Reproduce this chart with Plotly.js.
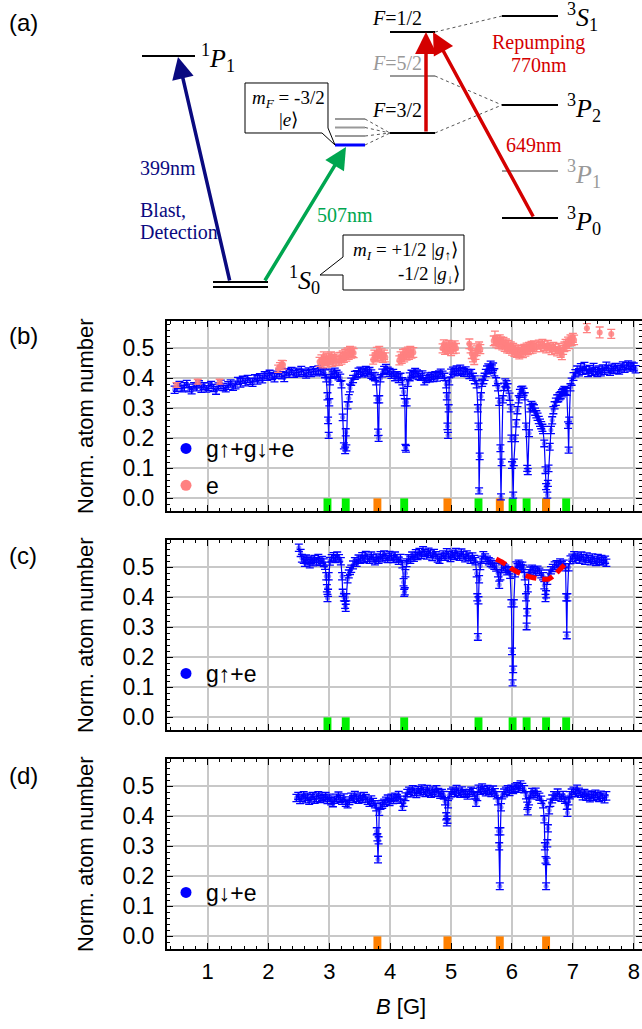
<!DOCTYPE html>
<html><head><meta charset="utf-8">
<script src="https://cdn.plot.ly/plotly-3.0.1.min.js"></script>
<style>html,body{margin:0;padding:0;background:#fff}</style>
</head><body><div id="chart" style="width:642px;height:1029px"></div>
<script>
// ---------- DATA (B [G], normalized atom number, error) ----------
const bAll = [[0.46,0.362,0.012],[0.50,0.370,0.013],[0.54,0.378,0.012],[0.58,0.366,0.011],[0.62,0.372,0.014],[0.66,0.381,0.012],[0.70,0.368,0.013],[0.74,0.360,0.012],[0.78,0.375,0.011],[0.82,0.371,0.013],[0.86,0.380,0.012],[0.90,0.367,0.014],[0.94,0.374,0.012],[0.98,0.365,0.011],[1.02,0.372,0.013],[1.06,0.378,0.012],[1.10,0.368,0.012],[1.14,0.360,0.013],[1.18,0.373,0.012],[1.22,0.380,0.014],[1.26,0.371,0.012],[1.30,0.366,0.011],[1.34,0.376,0.013],[1.38,0.383,0.012],[1.42,0.372,0.012],[1.46,0.378,0.013],[1.50,0.391,0.012],[1.54,0.385,0.014],[1.58,0.395,0.012],[1.62,0.388,0.013],[1.66,0.398,0.012],[1.70,0.390,0.011],[1.74,0.386,0.013],[1.78,0.400,0.012],[1.82,0.395,0.014],[1.86,0.404,0.012],[1.90,0.398,0.013],[1.94,0.410,0.012],[1.98,0.405,0.012],[2.02,0.414,0.013],[2.06,0.408,0.012],[2.10,0.402,0.014],[2.14,0.412,0.012],[2.18,0.418,0.013],[2.22,0.410,0.012],[2.26,0.404,0.015],[2.30,0.420,0.012],[2.34,0.416,0.013],[2.38,0.424,0.012],[2.42,0.415,0.012],[2.46,0.421,0.013],[2.50,0.418,0.012],[2.54,0.426,0.014],[2.58,0.419,0.012],[2.62,0.414,0.013],[2.66,0.423,0.012],[2.70,0.418,0.012],[2.74,0.426,0.013],[2.78,0.420,0.012],[2.82,0.428,0.013],[2.86,0.424,0.012],[2.90,0.420,0.012],[2.93,0.415,0.013],[2.95,0.400,0.012],[2.97,0.340,0.012],[2.98,0.260,0.011],[2.99,0.210,0.010],[3.00,0.320,0.012],[3.01,0.390,0.012],[3.03,0.418,0.013],[3.06,0.412,0.012],[3.09,0.420,0.014],[3.12,0.415,0.012],[3.15,0.408,0.013],[3.18,0.402,0.012],[3.20,0.380,0.012],[3.22,0.270,0.011],[3.24,0.175,0.010],[3.26,0.160,0.011],[3.27,0.220,0.012],[3.28,0.168,0.010],[3.30,0.310,0.012],[3.32,0.334,0.012],[3.34,0.368,0.013],[3.36,0.389,0.012],[3.39,0.398,0.012],[3.42,0.410,0.013],[3.45,0.414,0.012],[3.48,0.420,0.014],[3.51,0.425,0.012],[3.54,0.418,0.013],[3.57,0.422,0.012],[3.60,0.428,0.012],[3.63,0.418,0.013],[3.66,0.424,0.012],[3.69,0.414,0.014],[3.72,0.408,0.012],[3.75,0.405,0.013],[3.77,0.390,0.012],[3.79,0.330,0.012],[3.80,0.220,0.011],[3.81,0.200,0.010],[3.82,0.330,0.012],[3.84,0.400,0.012],[3.87,0.418,0.013],[3.90,0.428,0.012],[3.93,0.432,0.014],[3.96,0.425,0.012],[3.99,0.420,0.013],[4.02,0.412,0.012],[4.05,0.418,0.012],[4.08,0.405,0.013],[4.11,0.410,0.012],[4.14,0.400,0.014],[4.17,0.405,0.012],[4.20,0.390,0.012],[4.22,0.355,0.012],[4.24,0.320,0.012],[4.25,0.170,0.010],[4.26,0.165,0.011],[4.27,0.320,0.012],[4.29,0.385,0.012],[4.32,0.405,0.013],[4.35,0.415,0.012],[4.38,0.410,0.012],[4.41,0.420,0.013],[4.44,0.416,0.012],[4.47,0.410,0.014],[4.50,0.405,0.012],[4.53,0.412,0.013],[4.56,0.390,0.012],[4.59,0.398,0.012],[4.62,0.405,0.013],[4.65,0.400,0.012],[4.68,0.408,0.012],[4.71,0.402,0.013],[4.74,0.410,0.012],[4.77,0.405,0.014],[4.80,0.413,0.012],[4.83,0.418,0.013],[4.86,0.412,0.012],[4.89,0.405,0.012],[4.92,0.380,0.012],[4.93,0.340,0.012],[4.94,0.240,0.011],[4.95,0.210,0.010],[4.96,0.300,0.012],[4.97,0.390,0.012],[5.00,0.418,0.013],[5.03,0.425,0.012],[5.06,0.420,0.012],[5.09,0.428,0.013],[5.12,0.422,0.012],[5.15,0.430,0.014],[5.18,0.424,0.012],[5.21,0.420,0.013],[5.24,0.426,0.012],[5.27,0.418,0.012],[5.30,0.412,0.013],[5.33,0.418,0.012],[5.36,0.405,0.012],[5.39,0.395,0.013],[5.42,0.380,0.012],[5.44,0.300,0.012],[5.45,0.240,0.011],[5.46,0.025,0.010],[5.47,0.140,0.011],[5.49,0.340,0.012],[5.51,0.385,0.012],[5.53,0.395,0.013],[5.55,0.405,0.012],[5.57,0.418,0.012],[5.59,0.428,0.013],[5.61,0.436,0.012],[5.63,0.430,0.014],[5.65,0.445,0.012],[5.67,0.432,0.013],[5.69,0.439,0.012],[5.71,0.420,0.012],[5.74,0.389,0.013],[5.77,0.370,0.012],[5.79,0.322,0.012],[5.81,0.167,0.011],[5.82,0.005,0.010],[5.83,0.120,0.011],[5.85,0.330,0.012],[5.87,0.372,0.012],[5.89,0.385,0.013],[5.91,0.380,0.012],[5.93,0.370,0.012],[5.96,0.339,0.012],[5.98,0.300,0.012],[5.99,0.200,0.011],[6.00,0.111,0.011],[6.02,0.011,0.010],[6.03,0.120,0.011],[6.05,0.200,0.011],[6.07,0.250,0.012],[6.09,0.294,0.012],[6.11,0.330,0.012],[6.13,0.350,0.013],[6.15,0.360,0.012],[6.17,0.362,0.012],[6.19,0.355,0.012],[6.21,0.340,0.012],[6.23,0.240,0.011],[6.25,0.100,0.010],[6.26,0.089,0.010],[6.28,0.217,0.011],[6.30,0.300,0.012],[6.32,0.311,0.012],[6.34,0.305,0.012],[6.36,0.300,0.012],[6.38,0.289,0.012],[6.40,0.280,0.012],[6.42,0.272,0.012],[6.44,0.261,0.012],[6.46,0.252,0.012],[6.48,0.244,0.012],[6.50,0.235,0.012],[6.51,0.228,0.012],[6.53,0.183,0.011],[6.55,0.094,0.011],[6.56,0.039,0.010],[6.58,0.011,0.010],[6.59,0.050,0.010],[6.60,0.100,0.011],[6.62,0.172,0.011],[6.64,0.228,0.012],[6.66,0.260,0.012],[6.68,0.294,0.012],[6.70,0.310,0.012],[6.72,0.322,0.012],[6.74,0.333,0.012],[6.76,0.334,0.012],[6.78,0.340,0.012],[6.80,0.344,0.012],[6.82,0.350,0.012],[6.84,0.355,0.012],[6.86,0.360,0.013],[6.88,0.358,0.012],[6.90,0.355,0.012],[6.92,0.244,0.011],[6.93,0.161,0.010],[6.94,0.260,0.011],[6.96,0.370,0.012],[6.98,0.389,0.012],[7.01,0.406,0.013],[7.04,0.417,0.012],[7.07,0.428,0.013],[7.10,0.420,0.012],[7.13,0.435,0.014],[7.16,0.425,0.012],[7.19,0.440,0.013],[7.22,0.428,0.012],[7.25,0.418,0.012],[7.28,0.430,0.013],[7.31,0.422,0.012],[7.34,0.436,0.014],[7.37,0.424,0.012],[7.40,0.418,0.012],[7.43,0.428,0.013],[7.46,0.420,0.012],[7.49,0.432,0.013],[7.52,0.425,0.012],[7.55,0.440,0.014],[7.58,0.430,0.012],[7.61,0.422,0.012],[7.64,0.434,0.013],[7.67,0.428,0.012],[7.70,0.438,0.012],[7.73,0.430,0.013],[7.76,0.426,0.012],[7.79,0.436,0.012],[7.82,0.442,0.013],[7.85,0.432,0.012],[7.88,0.440,0.012],[7.91,0.445,0.013],[7.94,0.436,0.012],[7.97,0.442,0.012],[8.00,0.438,0.013],[8.03,0.430,0.012]];

const bExcited = [[0.49,0.378,0.008],[0.84,0.389,0.008],[1.20,0.389,0.008],[2.16,0.432,0.012],[2.19,0.440,0.012],[2.22,0.448,0.012],[2.24,0.445,0.014],[2.84,0.455,0.015],[2.87,0.462,0.016],[2.89,0.450,0.015],[2.91,0.470,0.018],[2.93,0.458,0.015],[2.95,0.465,0.016],[2.97,0.452,0.015],[2.99,0.468,0.016],[3.01,0.460,0.015],[3.03,0.472,0.016],[3.05,0.455,0.015],[3.07,0.463,0.016],[3.09,0.470,0.015],[3.11,0.458,0.016],[3.16,0.458,0.015],[3.18,0.470,0.016],[3.20,0.462,0.015],[3.22,0.475,0.016],[3.24,0.468,0.015],[3.26,0.480,0.016],[3.28,0.472,0.015],[3.30,0.485,0.016],[3.32,0.478,0.015],[3.34,0.490,0.016],[3.36,0.482,0.015],[3.38,0.488,0.016],[3.40,0.484,0.015],[3.72,0.462,0.015],[3.74,0.478,0.016],[3.76,0.470,0.015],[3.78,0.485,0.018],[3.80,0.475,0.015],[3.82,0.490,0.016],[3.84,0.472,0.015],[3.86,0.482,0.016],[3.88,0.468,0.015],[3.90,0.478,0.016],[3.92,0.470,0.015],[4.15,0.460,0.015],[4.17,0.472,0.016],[4.19,0.465,0.015],[4.21,0.480,0.016],[4.23,0.470,0.015],[4.25,0.484,0.016],[4.27,0.476,0.015],[4.29,0.488,0.016],[4.31,0.478,0.015],[4.33,0.490,0.016],[4.35,0.482,0.015],[4.38,0.486,0.016],[4.86,0.500,0.015],[4.88,0.512,0.016],[4.90,0.495,0.015],[4.92,0.505,0.016],[4.94,0.498,0.015],[4.96,0.510,0.016],[4.98,0.502,0.015],[5.00,0.492,0.016],[5.02,0.506,0.015],[5.04,0.498,0.016],[5.06,0.510,0.015],[5.08,0.500,0.016],[5.30,0.515,0.016],[5.32,0.500,0.015],[5.34,0.482,0.016],[5.36,0.470,0.015],[5.38,0.462,0.016],[5.40,0.478,0.015],[5.42,0.492,0.016],[5.44,0.500,0.015],[5.46,0.505,0.016],[5.48,0.497,0.015],[5.70,0.525,0.016],[5.72,0.535,0.022],[5.74,0.520,0.016],[5.76,0.528,0.015],[5.78,0.515,0.016],[5.80,0.530,0.015],[5.82,0.522,0.016],[5.84,0.510,0.015],[5.86,0.520,0.016],[5.88,0.505,0.015],[5.90,0.515,0.016],[5.92,0.500,0.015],[5.94,0.510,0.016],[5.96,0.498,0.015],[5.98,0.505,0.016],[6.00,0.492,0.015],[6.02,0.500,0.016],[6.04,0.488,0.015],[6.06,0.495,0.016],[6.08,0.485,0.015],[6.10,0.492,0.016],[6.12,0.480,0.015],[6.14,0.488,0.016],[6.16,0.495,0.015],[6.18,0.485,0.016],[6.20,0.498,0.015],[6.22,0.490,0.016],[6.24,0.502,0.015],[6.26,0.495,0.016],[6.28,0.505,0.015],[6.30,0.498,0.016],[6.32,0.508,0.015],[6.34,0.500,0.016],[6.36,0.510,0.015],[6.40,0.505,0.016],[6.44,0.512,0.015],[6.47,0.505,0.016],[6.50,0.515,0.015],[6.53,0.508,0.016],[6.56,0.500,0.015],[6.59,0.510,0.016],[6.62,0.502,0.015],[6.65,0.495,0.016],[6.68,0.505,0.015],[6.71,0.498,0.016],[6.74,0.490,0.015],[6.77,0.500,0.016],[6.80,0.485,0.015],[6.82,0.478,0.016],[6.84,0.495,0.015],[6.86,0.505,0.016],[6.88,0.515,0.015],[6.90,0.508,0.016],[6.92,0.522,0.015],[6.94,0.515,0.016],[6.96,0.530,0.015],[6.98,0.525,0.016],[7.00,0.535,0.015],[7.02,0.528,0.016],[7.23,0.567,0.015],[7.44,0.553,0.018],[7.63,0.548,0.015]];

const cUp = [[2.50,0.565,0.012],[2.53,0.548,0.012],[2.55,0.530,0.013],[2.58,0.525,0.012],[2.60,0.515,0.012],[2.62,0.528,0.013],[2.65,0.520,0.012],[2.68,0.512,0.014],[2.70,0.525,0.012],[2.73,0.518,0.013],[2.76,0.528,0.012],[2.79,0.520,0.012],[2.82,0.530,0.013],[2.85,0.518,0.012],[2.88,0.524,0.012],[2.91,0.515,0.013],[2.93,0.505,0.012],[2.95,0.470,0.012],[2.96,0.430,0.012],[2.97,0.398,0.012],[2.98,0.415,0.012],[2.99,0.470,0.012],[3.01,0.520,0.013],[3.04,0.530,0.012],[3.07,0.535,0.014],[3.10,0.528,0.012],[3.13,0.538,0.013],[3.16,0.530,0.012],[3.19,0.520,0.012],[3.21,0.470,0.012],[3.22,0.415,0.012],[3.24,0.400,0.012],[3.26,0.375,0.012],[3.27,0.365,0.012],[3.28,0.400,0.012],[3.30,0.460,0.012],[3.32,0.478,0.013],[3.34,0.488,0.012],[3.36,0.495,0.012],[3.39,0.508,0.013],[3.42,0.520,0.012],[3.45,0.515,0.012],[3.48,0.528,0.013],[3.51,0.525,0.012],[3.54,0.535,0.014],[3.57,0.528,0.012],[3.60,0.540,0.013],[3.63,0.532,0.012],[3.66,0.525,0.012],[3.69,0.538,0.013],[3.72,0.530,0.012],[3.75,0.520,0.012],[3.78,0.532,0.013],[3.81,0.525,0.012],[3.84,0.538,0.014],[3.87,0.530,0.012],[3.90,0.542,0.013],[3.93,0.535,0.012],[3.96,0.528,0.012],[3.99,0.540,0.013],[4.02,0.535,0.012],[4.05,0.528,0.012],[4.08,0.538,0.013],[4.11,0.530,0.012],[4.14,0.522,0.012],[4.17,0.530,0.013],[4.20,0.510,0.012],[4.22,0.450,0.012],[4.23,0.415,0.012],[4.24,0.420,0.012],[4.25,0.480,0.012],[4.27,0.515,0.013],[4.30,0.530,0.012],[4.33,0.525,0.012],[4.36,0.538,0.013],[4.39,0.532,0.012],[4.42,0.545,0.014],[4.45,0.538,0.012],[4.48,0.550,0.013],[4.51,0.542,0.012],[4.54,0.555,0.014],[4.57,0.548,0.012],[4.60,0.540,0.013],[4.63,0.552,0.012],[4.66,0.545,0.012],[4.69,0.535,0.013],[4.72,0.548,0.012],[4.75,0.540,0.012],[4.78,0.530,0.013],[4.81,0.525,0.012],[4.84,0.535,0.012],[4.87,0.542,0.013],[4.90,0.535,0.012],[4.93,0.548,0.014],[4.96,0.540,0.012],[4.99,0.532,0.013],[5.02,0.545,0.012],[5.05,0.538,0.012],[5.08,0.550,0.013],[5.11,0.542,0.012],[5.14,0.535,0.012],[5.17,0.548,0.013],[5.20,0.540,0.012],[5.23,0.530,0.012],[5.26,0.542,0.013],[5.29,0.535,0.012],[5.32,0.525,0.012],[5.35,0.535,0.013],[5.38,0.528,0.012],[5.40,0.520,0.012],[5.42,0.480,0.012],[5.43,0.400,0.012],[5.44,0.268,0.011],[5.45,0.390,0.012],[5.46,0.460,0.012],[5.48,0.505,0.013],[5.50,0.525,0.012],[5.53,0.540,0.012],[5.56,0.532,0.013],[5.59,0.525,0.012],[5.62,0.520,0.012],[5.65,0.515,0.013],[5.68,0.510,0.012],[5.71,0.505,0.012],[5.74,0.500,0.013],[5.77,0.480,0.012],[5.79,0.442,0.012],[5.81,0.470,0.012],[5.83,0.495,0.013],[5.86,0.500,0.012],[5.89,0.495,0.012],[5.92,0.488,0.013],[5.95,0.490,0.012],[5.97,0.475,0.012],[5.99,0.380,0.012],[6.00,0.220,0.011],[6.01,0.115,0.010],[6.02,0.160,0.011],[6.03,0.380,0.012],[6.05,0.480,0.012],[6.07,0.505,0.013],[6.09,0.500,0.012],[6.11,0.512,0.012],[6.13,0.505,0.013],[6.15,0.498,0.012],[6.17,0.505,0.012],[6.19,0.495,0.012],[6.21,0.470,0.012],[6.23,0.400,0.012],[6.24,0.303,0.011],[6.25,0.350,0.012],[6.26,0.430,0.012],[6.28,0.480,0.012],[6.30,0.488,0.013],[6.33,0.495,0.012],[6.36,0.490,0.012],[6.39,0.485,0.013],[6.42,0.492,0.012],[6.45,0.485,0.012],[6.48,0.478,0.013],[6.51,0.470,0.012],[6.53,0.440,0.012],[6.55,0.398,0.012],[6.56,0.410,0.012],[6.58,0.455,0.012],[6.61,0.478,0.013],[6.64,0.490,0.012],[6.67,0.498,0.012],[6.70,0.505,0.013],[6.73,0.510,0.012],[6.76,0.505,0.012],[6.79,0.515,0.013],[6.82,0.508,0.012],[6.85,0.512,0.012],[6.88,0.500,0.012],[6.89,0.400,0.012],[6.90,0.273,0.011],[6.91,0.400,0.012],[6.93,0.500,0.012],[6.96,0.525,0.013],[6.99,0.532,0.012],[7.02,0.540,0.012],[7.05,0.528,0.013],[7.08,0.535,0.012],[7.11,0.525,0.012],[7.14,0.538,0.013],[7.17,0.530,0.012],[7.20,0.522,0.012],[7.23,0.535,0.013],[7.26,0.528,0.012],[7.29,0.520,0.012],[7.32,0.532,0.013],[7.35,0.525,0.012],[7.38,0.518,0.012],[7.41,0.530,0.013],[7.44,0.522,0.012],[7.47,0.528,0.012],[7.50,0.520,0.013],[7.53,0.525,0.012],[7.55,0.515,0.012]];

const cFitB = [5.74, 5.90, 6.02, 6.20, 6.35, 6.50, 6.60, 6.70, 6.76, 6.90];
const cFitV = [0.528, 0.510, 0.492, 0.474, 0.465, 0.461, 0.461, 0.475, 0.487, 0.517];

const dDown = [[2.46,0.461,0.012],[2.49,0.468,0.012],[2.52,0.455,0.013],[2.55,0.462,0.012],[2.58,0.470,0.012],[2.61,0.458,0.013],[2.64,0.465,0.012],[2.67,0.452,0.012],[2.70,0.460,0.013],[2.73,0.468,0.012],[2.76,0.455,0.012],[2.79,0.462,0.013],[2.82,0.470,0.012],[2.85,0.458,0.012],[2.88,0.465,0.013],[2.91,0.460,0.012],[2.94,0.468,0.012],[2.97,0.455,0.013],[3.00,0.462,0.012],[3.03,0.450,0.012],[3.06,0.445,0.013],[3.09,0.455,0.012],[3.12,0.462,0.012],[3.15,0.468,0.013],[3.18,0.458,0.012],[3.21,0.452,0.012],[3.24,0.462,0.013],[3.27,0.445,0.012],[3.30,0.440,0.012],[3.33,0.452,0.013],[3.36,0.465,0.012],[3.39,0.458,0.012],[3.42,0.470,0.013],[3.45,0.462,0.012],[3.48,0.455,0.012],[3.51,0.465,0.013],[3.54,0.458,0.012],[3.57,0.468,0.012],[3.60,0.460,0.013],[3.63,0.452,0.012],[3.66,0.445,0.012],[3.69,0.455,0.013],[3.72,0.448,0.012],[3.75,0.440,0.012],[3.77,0.430,0.012],[3.78,0.350,0.012],[3.79,0.330,0.012],[3.80,0.256,0.011],[3.81,0.320,0.012],[3.82,0.415,0.012],[3.84,0.435,0.012],[3.87,0.440,0.013],[3.90,0.445,0.012],[3.93,0.452,0.012],[3.96,0.458,0.013],[3.99,0.448,0.012],[4.02,0.462,0.012],[4.05,0.455,0.013],[4.08,0.465,0.012],[4.11,0.460,0.012],[4.14,0.470,0.013],[4.17,0.455,0.012],[4.20,0.432,0.012],[4.22,0.445,0.012],[4.25,0.465,0.013],[4.28,0.478,0.012],[4.31,0.485,0.012],[4.34,0.478,0.013],[4.37,0.490,0.012],[4.40,0.482,0.012],[4.43,0.475,0.013],[4.46,0.488,0.012],[4.49,0.480,0.012],[4.52,0.492,0.013],[4.55,0.485,0.012],[4.58,0.478,0.012],[4.61,0.490,0.013],[4.64,0.482,0.012],[4.67,0.475,0.012],[4.70,0.485,0.013],[4.73,0.478,0.012],[4.76,0.490,0.012],[4.79,0.480,0.013],[4.82,0.472,0.012],[4.85,0.478,0.012],[4.88,0.470,0.013],[4.90,0.450,0.012],[4.92,0.400,0.012],[4.93,0.380,0.012],[4.94,0.389,0.012],[4.95,0.440,0.012],[4.97,0.470,0.012],[5.00,0.478,0.013],[5.03,0.485,0.012],[5.06,0.478,0.012],[5.09,0.490,0.013],[5.12,0.482,0.012],[5.15,0.475,0.012],[5.18,0.485,0.013],[5.21,0.478,0.012],[5.24,0.475,0.012],[5.27,0.470,0.013],[5.30,0.478,0.012],[5.33,0.485,0.012],[5.36,0.480,0.013],[5.39,0.470,0.012],[5.41,0.445,0.012],[5.43,0.465,0.013],[5.45,0.492,0.012],[5.48,0.485,0.012],[5.51,0.495,0.013],[5.54,0.488,0.012],[5.57,0.480,0.012],[5.60,0.490,0.013],[5.63,0.485,0.012],[5.66,0.478,0.012],[5.69,0.488,0.013],[5.72,0.480,0.012],[5.75,0.470,0.012],[5.77,0.450,0.012],[5.78,0.350,0.012],[5.79,0.300,0.012],[5.80,0.167,0.011],[5.81,0.350,0.012],[5.82,0.430,0.012],[5.84,0.470,0.012],[5.87,0.478,0.013],[5.90,0.485,0.012],[5.93,0.490,0.012],[5.96,0.482,0.013],[5.99,0.492,0.012],[6.02,0.488,0.012],[6.05,0.495,0.013],[6.08,0.500,0.012],[6.11,0.492,0.012],[6.14,0.505,0.013],[6.17,0.498,0.012],[6.20,0.490,0.012],[6.23,0.470,0.012],[6.25,0.435,0.012],[6.26,0.417,0.012],[6.28,0.450,0.012],[6.30,0.470,0.012],[6.33,0.480,0.013],[6.36,0.475,0.012],[6.39,0.482,0.012],[6.42,0.470,0.013],[6.45,0.465,0.012],[6.48,0.455,0.012],[6.51,0.440,0.012],[6.53,0.390,0.012],[6.54,0.300,0.012],[6.55,0.255,0.011],[6.56,0.167,0.011],[6.57,0.250,0.011],[6.58,0.310,0.012],[6.59,0.360,0.012],[6.61,0.420,0.012],[6.63,0.445,0.012],[6.66,0.458,0.013],[6.69,0.470,0.012],[6.72,0.465,0.012],[6.75,0.478,0.013],[6.78,0.470,0.012],[6.81,0.462,0.012],[6.84,0.470,0.013],[6.87,0.455,0.012],[6.90,0.435,0.012],[6.91,0.412,0.012],[6.93,0.450,0.012],[6.95,0.470,0.012],[6.98,0.478,0.013],[7.01,0.485,0.012],[7.04,0.478,0.012],[7.07,0.490,0.014],[7.10,0.482,0.012],[7.13,0.475,0.012],[7.16,0.468,0.013],[7.19,0.478,0.012],[7.22,0.465,0.012],[7.25,0.472,0.013],[7.28,0.460,0.012],[7.31,0.470,0.012],[7.34,0.465,0.013],[7.37,0.475,0.012],[7.40,0.468,0.012],[7.43,0.462,0.013],[7.46,0.472,0.012],[7.49,0.465,0.012],[7.52,0.458,0.013],[7.55,0.468,0.014]];

// resonance positions (B [G])
const resUp = [2.97, 3.27, 4.23, 5.45, 6.01, 6.24, 6.56, 6.89];
const resDown = [3.79, 4.94, 5.80, 6.56];

const xTicks = [1, 2, 3, 4, 5, 6, 7, 8];
const yTicks = [0.0, 0.1, 0.2, 0.3, 0.4, 0.5];

// ---------- helpers ----------
const W = 642, H = 1029;
const PX = x => x / W, PY = y => 1 - y / H;
const col = (rows, i) => rows.map(r => r[i]);
const BLUE = '#0000ff', PINK = '#ff8080', GREEN = '#00f000', ORANGE = '#ff8000';

function dataTrace(rows, xa, ya, color, lines, msize, mop) {
  return {
    x: col(rows, 0), y: col(rows, 1), xaxis: xa, yaxis: ya,
    type: 'scatter', mode: lines ? 'lines+markers' : 'markers', showlegend: false,
    line: { color: color, width: 1.2 },
    marker: { color: color, size: msize, opacity: mop, line: { width: 0 } },
    error_y: { type: 'data', array: col(rows, 2), color: color, thickness: 1.3, width: 4 },
    hoverinfo: 'skip'
  };
}
function resBars(pos, xa, ya, color) {
  return { type: 'bar', x: pos, y: pos.map(() => 0.05), base: -0.05, width: 0.13,
    xaxis: xa, yaxis: ya, marker: { color: color, line: { width: 0 } }, showlegend: false, hoverinfo: 'skip' };
}
function legendItem(name, color, leg, xa, ya) {
  return { x: [null], y: [null], xaxis: xa, yaxis: ya, type: 'scatter', mode: 'markers', name: name,
    marker: { color: color, size: 11 }, legend: leg, showlegend: true, legendgroup: name };
}

const traces = [
  dataTrace(bAll, 'x', 'y', BLUE, true, 5, 0.45),
  dataTrace(bExcited, 'x', 'y', PINK, false, 6, 0.85),
  resBars(resUp, 'x', 'y', GREEN),
  resBars(resDown, 'x', 'y', ORANGE),
  legendItem('g↑+g↓+e', BLUE, 'legend', 'x', 'y'),
  legendItem('e', PINK, 'legend', 'x', 'y'),

  dataTrace(cUp, 'x2', 'y2', BLUE, true, 5, 0.45),
  { x: cFitB, y: cFitV, xaxis: 'x2', yaxis: 'y2', type: 'scatter', mode: 'lines', line: { color: '#ff0000', width: 5, dash: '11px,6px', shape: 'spline' }, showlegend: false, hoverinfo: 'skip' },
  resBars(resUp, 'x2', 'y2', GREEN),
  legendItem('g↑+e', BLUE, 'legend2', 'x2', 'y2'),

  dataTrace(dDown, 'x3', 'y3', BLUE, true, 5, 0.45),
  resBars(resDown, 'x3', 'y3', ORANGE),
  legendItem('g↓+e', BLUE, 'legend3', 'x3', 'y3')
];

const XDOM = [167 / W, 1];
const xRange = [0.335, 8.135];
const yRange = [-0.042, 0.591];
const sans = 'Liberation Sans, Arial, sans-serif';
const xTickFont = { family: sans, size: 22, color: '#000' };
const yTickFont = { family: sans, size: 23, color: '#000' };

function xAxis(anchor, showLabels) {
  return { domain: XDOM, range: xRange, anchor: anchor, tickmode: 'array', tickvals: xTicks, ticktext: xTicks.map(String),
    showticklabels: showLabels, ticks: 'inside', ticklen: 6, tickwidth: 1.3, tickcolor: '#000',
    minor: { dtick: 0.2, tick0: 0, ticks: 'inside', ticklen: 3, tickcolor: '#000', showgrid: false },
    showgrid: true, gridcolor: '#c8c8c8', gridwidth: 2, zeroline: false,
    showline: true, linecolor: '#000', linewidth: 2, mirror: 'ticks', tickfont: xTickFont, ticklabelstandoff: 2 };
}
function yAxis(anchor, top, bottom) {
  return { domain: [1 - bottom / H, 1 - top / H], range: yRange, anchor: anchor, tickmode: 'array', tickvals: yTicks,
    ticktext: yTicks.map(v => v.toFixed(1)), ticks: 'inside', ticklen: 6, tickwidth: 1.3, tickcolor: '#000',
    minor: { dtick: 0.02, tick0: 0, ticks: 'inside', ticklen: 3, tickcolor: '#000', showgrid: false },
    showgrid: true, gridcolor: '#c8c8c8', gridwidth: 2, zeroline: false,
    showline: true, linecolor: '#000', linewidth: 2, mirror: 'ticks', tickfont: yTickFont, ticklabelstandoff: 6 };
}

// ---------- panel (a): level diagram ----------
const shapes = [];
const annos = [];
function hline(x0, x1, y, color, w) { shapes.push({ type: 'line', xref: 'paper', yref: 'paper', x0: PX(x0), x1: PX(x1), y0: PY(y), y1: PY(y), line: { color: color, width: w } }); }
function dline(x0, y0, x1, y1) { shapes.push({ type: 'line', xref: 'paper', yref: 'paper', x0: PX(x0), x1: PX(x1), y0: PY(y0), y1: PY(y1), line: { color: '#555', width: 1, dash: 'dot' } }); }
function poly(pts) {
  const d = pts.map((p, i) => (i ? 'L' : 'M') + PX(p[0]).toFixed(5) + ',' + PY(p[1]).toFixed(5)).join(' ') + ' Z';
  shapes.push({ type: 'path', xref: 'paper', yref: 'paper', path: d, line: { color: '#000', width: 1 }, fillcolor: 'rgba(255,255,255,0)' });
}
function txt(x, y, t, size, color, fam, xa) {
  annos.push({ xref: 'paper', yref: 'paper', x: PX(x), y: PY(y), text: t, showarrow: false, xanchor: xa || 'center', yanchor: 'middle',
    font: { family: fam || 'Liberation Serif, Times New Roman, serif', size: size, color: color || '#000' } });
}
function arrow(tx, ty, hx, hy, color) {
  annos.push({ xref: 'paper', yref: 'paper', x: PX(hx), y: PY(hy), ax: tx - hx, ay: ty - hy, axref: 'pixel', ayref: 'pixel',
    text: '', showarrow: true, arrowhead: 2, arrowsize: 1.25, arrowwidth: 3.5, arrowcolor: color, standoff: 0, startstandoff: 0 });
}

hline(142, 195, 56, '#000', 2);
hline(213, 268, 282, '#000', 2);
hline(213, 268, 287, '#000', 2);
[119, 127.5, 136].forEach(y => { hline(335, 365, y, '#999', 2); dline(365, y, 390, 133); });
hline(335, 365, 145, '#0000ff', 3);
dline(365, 145, 390, 133);
hline(390, 435, 32, '#000', 2);
hline(390, 435, 76, '#999', 2);
hline(390, 435, 133, '#000', 2);
hline(502, 558, 16, '#000', 2);
hline(502, 558, 105, '#000', 2);
hline(502, 558, 171, '#999', 2);
hline(502, 558, 218, '#000', 2);
dline(435, 32, 502, 16);
dline(435, 76, 502, 105);
dline(435, 133, 502, 105);
poly([[245, 83], [328, 83], [328, 128], [335, 145], [322, 133], [245, 133]]);
poly([[343, 235], [464, 235], [464, 290], [343, 290], [343, 275], [320, 275], [343, 257]]);

arrow(230, 282, 178, 57, '#0a0a80');
arrow(264, 282, 346, 147, '#00a650');
arrow(426, 133, 426, 32, '#d40000');
arrow(534, 218, 433, 32, '#d40000');

txt(199, 58, '<sup>1</sup><i>P</i><sub>1</sub>', 26, '#000', null, 'left');
txt(287, 280, '<sup>1</sup><i>S</i><sub>0</sub>', 26, '#000', null, 'left');
txt(565, 17, '<sup>3</sup><i>S</i><sub>1</sub>', 26, '#000', null, 'left');
txt(565, 108, '<sup>3</sup><i>P</i><sub>2</sub>', 26, '#000', null, 'left');
txt(565, 174, '<sup>3</sup><i>P</i><sub>1</sub>', 26, '#999', null, 'left');
txt(565, 221, '<sup>3</sup><i>P</i><sub>0</sub>', 26, '#000', null, 'left');
txt(397, 18, '<i>F</i>=1/2', 20, '#000');
txt(397, 63, '<i>F</i>=5/2', 20, '#999');
txt(397, 110, '<i>F</i>=3/2', 20, '#000');
txt(538, 43, 'Repumping', 20, '#d40000');
txt(539, 65, '770nm', 20, '#d40000');
txt(534, 145, '649nm', 20, '#d40000');
txt(138, 168, '399nm', 20, '#0a0a80', null, 'left');
txt(138, 210, 'Blast,', 20, '#0a0a80', null, 'left');
txt(138, 232, 'Detection', 20, '#0a0a80', null, 'left');
txt(345, 215, '507nm', 20, '#00a650');
txt(288, 99, '<i>m</i><sub><i>F</i></sub> = -3/2', 19, '#000');
txt(288, 120, '|<i>e</i>⟩', 19, '#000');
txt(405, 251, '<i>m</i><sub><i>I</i></sub> = +1/2 |<i>g</i><sub>↑</sub>⟩', 19, '#000');
txt(462, 275, '-1/2 |<i>g</i><sub>↓</sub>⟩', 19, '#000', null, 'right');

// panel labels
txt(7, 23, '(a)', 24, '#000', sans, 'left');
txt(7, 335, '(b)', 24, '#000', sans, 'left');
txt(7, 555, '(c)', 24, '#000', sans, 'left');
txt(7, 775, '(d)', 24, '#000', sans, 'left');
// axis titles
[416, 635, 854].forEach(yc => annos.push({ xref: 'paper', yref: 'paper', x: PX(85), y: PY(yc), text: 'Norm. atom number', textangle: -90,
  showarrow: false, xanchor: 'center', yanchor: 'middle', font: { family: sans, size: 22, color: '#000' } }));
txt(401, 1006, '<i>B</i> [G]', 22, '#000', sans);

const legBase = { xanchor: 'left', yanchor: 'top', bgcolor: 'rgba(0,0,0,0)', borderwidth: 0, font: { family: sans, size: 23, color: '#000' },
  traceorder: 'grouped', tracegroupgap: 4, itemwidth: 30 };

const layout = {
  width: W, height: H, margin: { l: 0, r: 0, t: 0, b: 0 }, paper_bgcolor: '#fff', plot_bgcolor: '#fff',
  barmode: 'overlay', showlegend: true,
  xaxis: xAxis('y', false), yaxis: yAxis('x', 321, 511),
  xaxis2: xAxis('y2', false), yaxis2: yAxis('x2', 540, 730),
  xaxis3: xAxis('y3', true), yaxis3: yAxis('x3', 759, 949),
  legend: Object.assign({}, legBase, { x: PX(166), y: PY(427) }),
  legend2: Object.assign({}, legBase, { x: PX(166), y: PY(652) }),
  legend3: Object.assign({}, legBase, { x: PX(166), y: PY(871) }),
  shapes: shapes, annotations: annos
};

Plotly.newPlot('chart', traces, layout, { displayModeBar: false, responsive: false });
</script></body></html>
